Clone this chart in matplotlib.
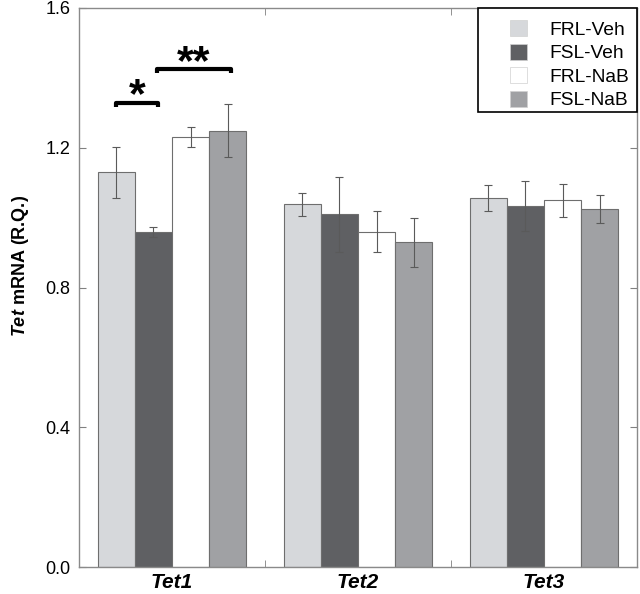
import matplotlib
matplotlib.use('Agg')
import matplotlib.pyplot as plt
from matplotlib.patches import Patch, Rectangle
import numpy as np

plt.rcParams['font.family'] = ['Liberation Sans', 'DejaVu Sans']
plt.rcParams['mathtext.fontset'] = 'custom'
plt.rcParams['mathtext.rm'] = 'Liberation Sans'
plt.rcParams['mathtext.bf'] = 'Liberation Sans:bold'
plt.rcParams['mathtext.it'] = 'Liberation Sans:italic'
plt.rcParams['mathtext.bfit'] = 'Liberation Sans:bold:italic'

genes = ['Tet1', 'Tet2', 'Tet3']
groups = ['FRL-Veh', 'FSL-Veh', 'FRL-NaB', 'FSL-NaB']
means = {
    'FRL-Veh': [1.13, 1.038, 1.055],
    'FSL-Veh': [0.959, 1.009, 1.033],
    'FRL-NaB': [1.230, 0.960, 1.050],
    'FSL-NaB': [1.249, 0.929, 1.025],
}
errs = {
    'FRL-Veh': [0.073, 0.033, 0.037],
    'FSL-Veh': [0.014, 0.108, 0.072],
    'FRL-NaB': [0.028, 0.059, 0.047],
    'FSL-NaB': [0.075, 0.070, 0.040],
}
colors = ['#d6d8db', '#5f6063', '#ffffff', '#a0a1a4']

fig = plt.figure(figsize=(6.4, 5.94), dpi=100)
ax = fig.add_axes([79 / 640, 1 - 567 / 594, 558 / 640, 559 / 594])

x = np.arange(len(genes))
w = 0.2
for i, g in enumerate(groups):
    pos = x + (i - 1.5) * w
    ax.bar(pos, means[g], w, color=colors[i], edgecolor='#6e6e6e', linewidth=0.8, zorder=2)
    ax.errorbar(pos, means[g], yerr=errs[g], fmt='none', ecolor='#5a5a5a',
                elinewidth=0.8, capsize=3, capthick=0.8, zorder=3)

# significance brackets
def bracket(x1, x2, y, label, ly):
    ax.plot([x1, x1, x2, x2], [y - 0.01, y, y, y - 0.01], color='black', lw=3,
            solid_capstyle='butt', zorder=4)
    ax.text((x1 + x2) / 2, ly, label, ha='center', va='baseline', fontsize=31,
            fontweight='bold')

bracket(-0.30, -0.075, 1.328, '*', 1.315)
bracket(-0.082, 0.318, 1.425, '**', 1.412)

ax.set_xlim(-0.5, 2.5)
ax.set_ylim(0, 1.6)
ax.set_yticks([0.0, 0.4, 0.8, 1.2, 1.6])
ax.set_yticklabels(['0.0', '0.4', '0.8', '1.2', '1.6'])
ax.set_xticks(x)
ax.set_xticklabels(genes, fontsize=15, fontweight='bold', fontstyle='italic')
ax.set_xticks([0.5, 1.5], minor=True)
ax.tick_params(axis='x', which='major', length=0, pad=4)
ax.tick_params(axis='x', which='minor', direction='in', length=5, color='#808080',
               top=True, bottom=True)
ax.tick_params(axis='y', direction='in', length=5, color='#808080', labelsize=13,
               left=True, right=True, pad=6)
for s in ax.spines.values():
    s.set_color('#8a8a8a')
    s.set_linewidth(1)

ax.set_ylabel(r'$\bfit{Tet}$ mRNA (R.Q.)', fontsize=13, fontweight='bold')
ax.yaxis.set_label_coords(-0.086, 0.538)

# legend box
ax.add_patch(Rectangle((0.715, 0.814), 0.285, 0.186, transform=ax.transAxes,
                       facecolor='white', edgecolor='black', linewidth=1.2,
                       clip_on=False, zorder=5))
handles = [Patch(facecolor=c, edgecolor='#d0d0d0', linewidth=0.5) for c in colors]
leg = ax.legend(handles, groups, loc='upper left', bbox_to_anchor=(0.772, 0.978),
                fontsize=13.8, frameon=False, borderpad=0, borderaxespad=0,
                handlelength=0.89, handleheight=0.89, handletextpad=1.2,
                labelspacing=0.26)
leg.set_zorder(6)

fig.savefig('out.png', dpi=100)
